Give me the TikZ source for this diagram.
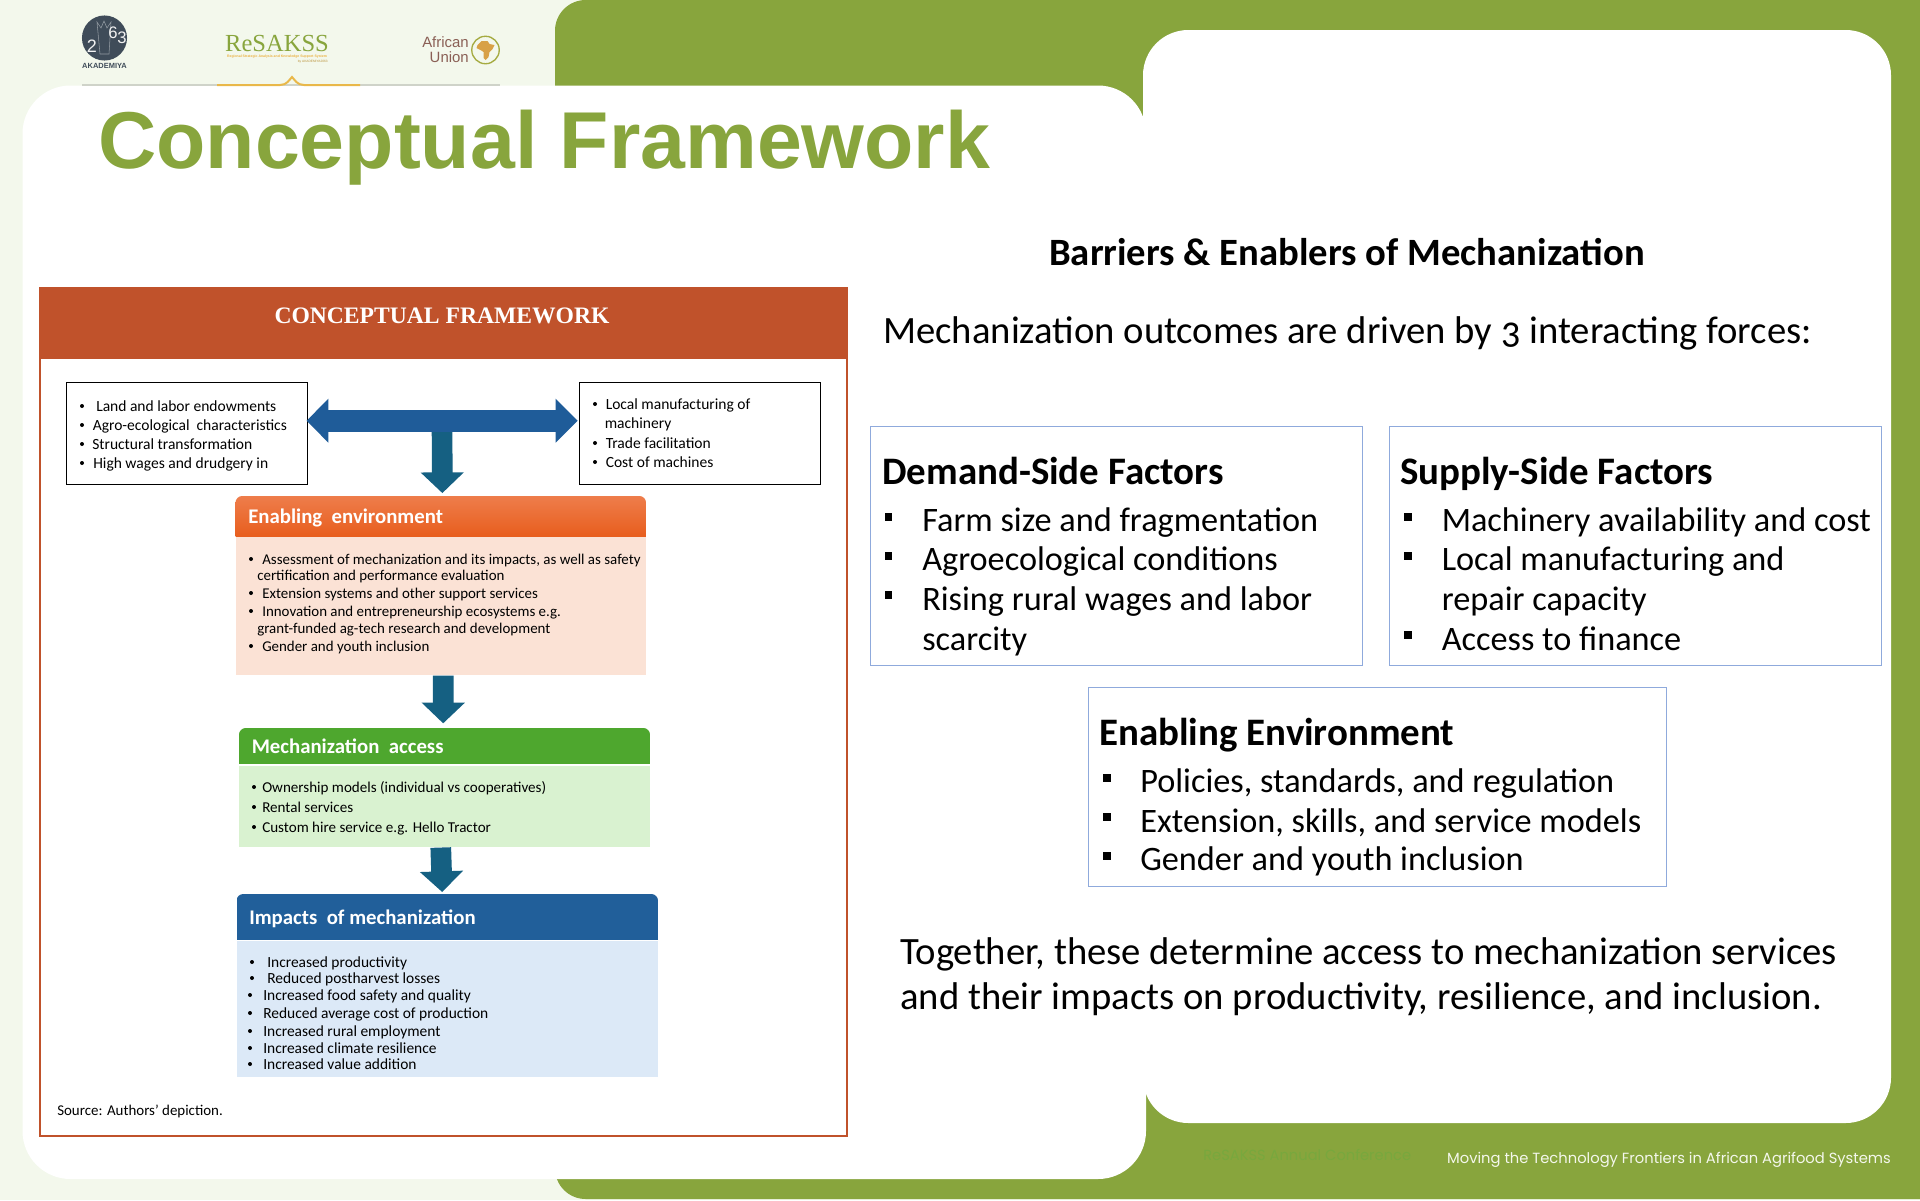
\documentclass[tikz,border=0pt]{standalone}
\usepackage{fontspec}
\setmainfont{Carlito}
\newfontfamily\arialf{Liberation Sans}
\newfontfamily\seriff{Liberation Serif}
\newfontfamily\popf{Poppins}
\newfontfamily\osf[Numbers=OldStyle]{Carlito}
\usetikzlibrary{arrows.meta}
\definecolor{pagebg}{HTML}{F3F8EC}
\definecolor{leaf}{HTML}{88A53D}
\definecolor{rust}{HTML}{C0522B}
\definecolor{deepblue}{HTML}{1F5C99}
\definecolor{teal}{HTML}{156082}
\definecolor{boxline}{HTML}{8FAADC}
\definecolor{gold}{HTML}{E9B84A}
\definecolor{aubrown}{HTML}{8A5F55}
\definecolor{peach}{HTML}{FBE2D5}
\definecolor{orangetop}{HTML}{EE7D4B}
\definecolor{orangebot}{HTML}{E85E1E}
\definecolor{mint}{HTML}{D9F2D0}
\definecolor{grass}{HTML}{4EA72E}
\definecolor{sky}{HTML}{DCE9F7}
\definecolor{impblue}{HTML}{215F9A}
\definecolor{slate}{HTML}{3F4C59}
\definecolor{faint}{HTML}{78A83E}
\definecolor{footw}{HTML}{F4F7EC}
\newcommand\fs[1]{\fontsize{#1}{#1}\selectfont}
\newcounter{tn}
% single text line: style, x, y (centre of line), text
\newcommand\txt[4][]{\stepcounter{tn}\node[line,#1] (t\arabic{tn}) at (#2,#3) {\rule[-.3em]{0pt}{1.3em}#4};}
\newcommand\rnd[2]{\fill (#1,#2) circle (1.5pt);}
\newcommand\sq[2]{\fill (#1-3.7,#2-3.7) rectangle (#1+3.7,#2+3.7);}
% header with rounded top corners: name,x1,y1,x2,y2,fill options,text
\newcommand\hdr[7]{%
 \begin{scope}
  \clip[rounded corners=5pt] (#2,#3) rectangle (#4,#5+14);
  \path[#6] (#2,#3) rectangle (#4,#5);
 \end{scope}
 \node[minimum width={(#4-#2)*0.75pt},minimum height={(#5-#3)*0.75pt},inner sep=0pt,anchor=north west] (#1) at (#2,#3) {};
 \txt[hdrtext]{#2+12.5}{{(#3+#5)/2}}{#7}}
\newcommand\bodybox[6]{\node[fill=#6,minimum width={(#4-#2)*0.75pt},minimum height={(#5-#3)*0.75pt},inner sep=0pt,anchor=north west] (#1) at (#2,#3) {};}
\tikzset{
 line/.style={anchor=west,inner sep=0pt,text=black},
 hdrtext/.style={text=white,font=\fs{15.6}\bfseries},
 lhs/.style={font=\fs{11.65}},
 enab/.style={font=\fs{11.2}},
 mech/.style={font=\fs{11.3}},
 imp/.style={font=\fs{11.6}},
 big/.style={font=\fs{25.7}},
 bighead/.style={font=\fs{29.2}\bfseries},
 factor/.style={draw=boxline,line width=1.1pt,inner sep=0pt,anchor=north west},
 blackbox/.style={draw=black,line width=1.1pt,inner sep=0pt,anchor=north west,fill=white},
 blockh/.style={line width=16.5pt,draw=deepblue,{Triangle[length=16.5pt,width=32pt]}-{Triangle[length=16.5pt,width=32pt]}},
 blockv/.style={line width=15.5pt,draw=teal,-{Triangle[length=15.5pt,width=31.5pt]}},
}
\begin{document}
\begin{tikzpicture}[x=0.75pt,y=-0.75pt]
\useasboundingbox (0,0) rectangle (1920,1200);
\begin{scope}
\clip (0,0) rectangle (1920,1200);
\fill[pagebg] (0,0) rectangle (1920,1200);
\fill[leaf,rounded corners=23pt] (555,0) rectangle (2020,1199);
\fill[white,rounded corners=36pt] (22.5,85.5) rectangle (1146,1179);
\fill[white,rounded corners=34pt] (1143,30) rectangle (1891,1123);
\end{scope}
% logos
\draw[color=black!15!pagebg,line width=1pt] (82,85) -- (500,85);
\draw[gold,line width=1.5pt] (217,85) -- (280,85) .. controls (287,85) and (289,80) .. (292,77) .. controls (295,80) and (297,85) .. (304,85) -- (360,85);
\fill[slate] (104.5,38) circle (16.9pt);
\draw[white!45!slate,line width=.4pt] (97,22) -- (101,28) -- (104,21) -- (107,28) -- (111,22) -- (109,54) -- (100,54) -- cycle;
\txt[anchor=center,text=white!90!gray,font=\arialf\fs{13.5}]{92}{46}{2}
\txt[anchor=center,text=white!90!gray,font=\arialf\fs{12.5}]{113}{33}{6}
\txt[anchor=center,text=white!90!gray,font=\arialf\fs{12.5}]{122}{38}{3}
\txt[anchor=center,text=slate,font=\arialf\bfseries\fs{5.6}]{104.5}{66}{AKADEMIYA}
\txt[anchor=center,text=leaf,font=\seriff\fs{18.4}]{277}{43}{ReSAKSS}
\txt[anchor=center,text=gold!90!orange,font=\arialf\bfseries\fs{2.6}]{277}{56}{Regional Strategic Analysis and Knowledge Support System}
\txt[anchor=east,text=gold!80!black,font=\arialf\fs{2.4}]{328}{61.5}{by AKADEMIYA2063}
\txt[anchor=east,text=aubrown,font=\arialf\fs{11.2}]{469}{42}{African}
\txt[anchor=east,text=aubrown,font=\arialf\fs{11.2}]{469}{57}{Union}
\draw[color=leaf!70!gold,line width=1pt] (485.5,50) circle (10.3pt);
\fill[color=gold!60!brown] (477.5,45) -- (481.5,41) -- (487.5,41) -- (489.5,44) -- (494.5,45) -- (492.5,49) -- (489.5,52) -- (488.5,57) -- (485.5,60) -- (483.5,58) -- (483.5,52) -- (480.5,50) -- (476.5,48) -- cycle;
% title
\txt[text=leaf,font=\arialf\bfseries\fs{60.5}]{98}{140}{Conceptual Framework}
% framework figure
\node[draw=rust,line width=1.5pt,fill=white,minimum width=605.5pt,minimum height=636pt,inner sep=0pt,anchor=north west] (frame) at (39,287) {};
\node[fill=rust,minimum width=605.5pt,minimum height=54pt,inner sep=0pt,anchor=north west] (framehead) at (39,287) {};
\txt[anchor=center,text=white,font=\seriff\bfseries\fs{17.7}]{442}{315}{CONCEPTUAL FRAMEWORK}
\node[blackbox,minimum width=180.75pt,minimum height=76.5pt] (lbox) at (66,382) {};
\node[blackbox,minimum width=180.75pt,minimum height=76.5pt] (rbox) at (579,382) {};
\rnd{82}{406}\txt[lhs]{96}{406}{Land and labor endowments}
\rnd{82}{425}\txt[lhs]{92.5}{425}{Agro-ecological\ \ characteristics}
\rnd{82}{444}\txt[lhs]{92}{444}{Structural transformation}
\rnd{82}{463}\txt[lhs]{93}{463}{High wages and drudgery in}
\rnd{595}{404}\txt[lhs]{605.5}{404}{Local manufacturing of}
\txt[lhs]{604.5}{423}{machinery}
\rnd{595}{443}\txt[lhs]{605.5}{443}{Trade facilitation}
\rnd{595}{462}\txt[lhs]{605.5}{462}{Cost of machines}
% enabling
\bodybox{enabbody}{235.5}{536}{646}{675}{peach}
\hdr{enabhead}{235.5}{496}{646}{536}{top color=orangetop,bottom color=orangebot}{Enabling\ \ environment}
\rnd{251}{559}\txt[enab]{262}{559}{Assessment of mechanization and its impacts, as well as safety}
\txt[enab]{257}{575}{certification and performance evaluation}
\rnd{251}{593}\txt[enab]{262}{593}{Extension systems and other support services}
\rnd{251}{611}\txt[enab]{262}{611}{Innovation and entrepreneurship ecosystems e.g.}
\txt[enab]{257}{628}{grant-funded ag-tech research and development}
\rnd{251}{646}\txt[enab]{262}{646}{Gender and youth inclusion}
% mechanization
\bodybox{mechbody}{239}{766}{650}{847}{mint}
\hdr{mechhead}{239}{728}{650}{764}{fill=grass}{Mechanization\ \ access}
\rnd{254}{787}\txt[mech]{262}{787}{Ownership models (individual vs cooperatives)}
\rnd{254}{807}\txt[mech]{262}{807}{Rental services}
\rnd{254}{827}\txt[mech]{262}{827}{Custom hire service e.g. Hello Tractor}
% impacts
\bodybox{impbody}{236.5}{941}{658}{1077}{sky}
\hdr{imphead}{236.5}{894}{658}{940}{fill=impblue}{Impacts\ \ of mechanization}
\rnd{252}{962}\txt[imp]{267}{962}{Increased productivity}
\rnd{252}{978}\txt[imp]{267}{978}{Reduced postharvest losses}
\rnd{250}{995}\txt[imp]{263}{995}{Increased food safety and quality}
\rnd{250}{1013}\txt[imp]{263}{1013}{Reduced average cost of production}
\rnd{250}{1031}\txt[imp]{263}{1031}{Increased rural employment}
\rnd{250}{1048}\txt[imp]{263}{1048}{Increased climate resilience}
\rnd{250}{1064}\txt[imp]{263}{1064}{Increased value addition}
\txt[font=\fs{11.2}]{57}{1110}{Source: Authors’ depiction.}
% block connectors
\coordinate (junction) at (442,420);
\draw[blockv] (junction) -- ([xshift=1pt,yshift=2.2pt]enabhead.north);
\draw[blockh] ([xshift=-1.5pt,yshift=9.75pt]lbox.east) -- ([xshift=-1pt,yshift=9.75pt]rbox.west);
\draw[blockv] ([xshift=1.7pt]enabbody.south) -- ([xshift=-1.2pt,yshift=3.5pt]mechhead.north);
\draw[blockv] ([xshift=-3pt]mechbody.south) -- ([xshift=-4pt,yshift=1.5pt]imphead.north);
% right column
\txt[anchor=center,font=\fs{29}\bfseries]{1347}{252}{Barriers \& Enablers of Mechanization}
\txt[font=\fs{29}]{883}{330}{Mechanization outcomes are driven by {\osf 3} interacting forces:}
\node[factor,minimum width=369pt,minimum height=179pt] (demand) at (870,426) {};
\node[factor,minimum width=369pt,minimum height=179pt] (supply) at (1389,426) {};
\node[factor,minimum width=433.5pt,minimum height=149pt] (enabling) at (1088,687) {};
\txt[bighead]{882}{471}{Demand-Side Factors}
\sq{888.5}{517}\txt[big]{922}{519}{Farm size and fragmentation}
\sq{888.5}{556}\txt[big]{922}{558}{Agroecological conditions}
\sq{888.5}{595}\txt[big]{922}{598}{Rising rural wages and labor}
\txt[big]{922}{638}{scarcity}
\txt[bighead]{1400}{471}{Supply-Side Factors}
\sq{1408}{517}\txt[big]{1441.5}{519}{Machinery availability and cost}
\sq{1408}{556}\txt[big]{1441.5}{558}{Local manufacturing and}
\txt[big]{1441.5}{598}{repair capacity}
\sq{1408}{635}\txt[big]{1441.5}{638}{Access to finance}
\txt[bighead]{1099}{732}{Enabling Environment}
\sq{1107}{778}\txt[big]{1140}{780}{Policies, standards, and regulation}
\sq{1107}{817}\txt[big]{1140}{820}{Extension, skills, and service models}
\sq{1107}{856}\txt[big]{1140}{858}{Gender and youth inclusion}
\txt[font=\fs{29}]{900}{951}{Together, these determine access to mechanization services}
\txt[font=\fs{29}]{900}{996}{and their impacts on productivity, resilience, and inclusion.}
% footer
\txt[text=faint,font=\popf\fs{11}]{1203}{1155}{ReSAKSS Annual Conference}
\txt[anchor=east,text=footw,font=\popf\fs{11.05}]{1891}{1158}{Moving the Technology Frontiers in African Agrifood Systems}
\end{tikzpicture}
\end{document}
